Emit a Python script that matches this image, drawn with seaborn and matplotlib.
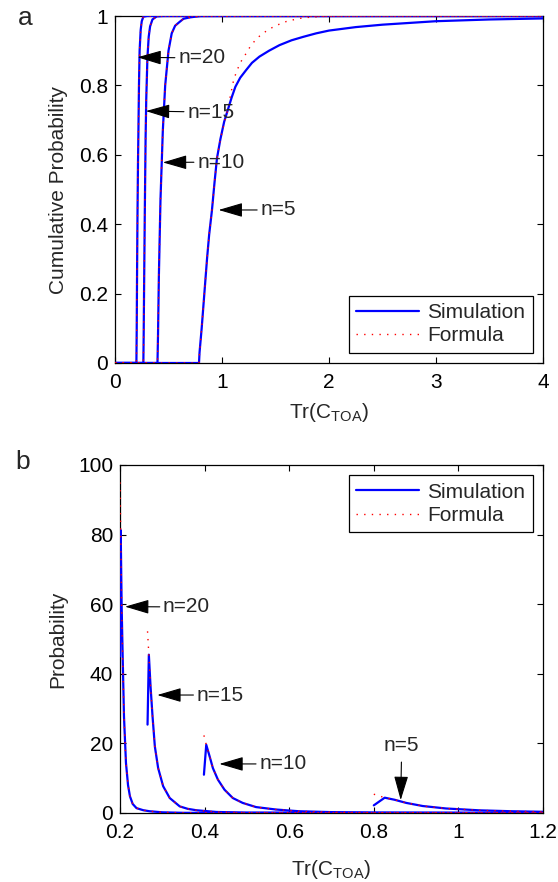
import numpy as np
import pandas as pd
import seaborn as sns
import matplotlib.pyplot as plt
from matplotlib.lines import Line2D
from matplotlib.ticker import FuncFormatter

sns.set_style("ticks")
plt.rcParams['font.family'] = ['Liberation Sans', 'DejaVu Sans']
plt.rcParams['mathtext.fontset'] = 'custom'
plt.rcParams['mathtext.rm'] = 'Liberation Sans'
plt.rcParams['mathtext.it'] = 'Liberation Sans'
plt.rcParams['mathtext.default'] = 'regular'

# ---- panel a: cumulative probability ----
cdf20_x = [0, 0.2, 0.203, 0.206, 0.21, 0.215, 0.219, 0.224, 0.23, 0.24, 0.25, 0.265, 0.3, 4]
cdf20_y = [0, 0, 0.1, 0.25, 0.42, 0.58, 0.67, 0.8, 0.9, 0.96, 0.985, 0.998, 1, 1]

cdf15_x = [0, 0.265, 0.268, 0.272, 0.278, 0.286, 0.292, 0.303, 0.315, 0.328, 0.35, 0.39, 0.45, 4]
cdf15_y = [0, 0, 0.08, 0.22, 0.42, 0.65, 0.76, 0.88, 0.94, 0.97, 0.99, 0.999, 1, 1]

cdf10_x = [0, 0.397, 0.402, 0.41, 0.425, 0.447, 0.469, 0.5, 0.53, 0.562, 0.6, 0.64, 0.7, 0.8, 4]
cdf10_y = [0, 0, 0.08, 0.25, 0.47, 0.67, 0.8, 0.9, 0.95, 0.972, 0.982, 0.992, 0.996, 1, 1]

cdf5_x = [0, 0.785, 0.79, 0.81, 0.83, 0.86, 0.88, 0.906, 0.93, 0.953, 0.985, 1.02, 1.06,
          1.09, 1.125, 1.17, 1.225, 1.28, 1.35, 1.44, 1.537, 1.65, 1.76, 1.88, 2.0,
          2.25, 2.5, 3.0, 3.5, 4]
cdf5_y = [0, 0, 0.03, 0.1, 0.18, 0.3, 0.37, 0.44, 0.52, 0.59, 0.645, 0.695, 0.735,
          0.765, 0.796, 0.822, 0.844, 0.865, 0.883, 0.9, 0.916, 0.93, 0.94, 0.95, 0.958,
          0.968, 0.975, 0.985, 0.99, 0.993]

# formula for n=5 departs from the simulation above ~0.7
cdf5f_x = [0, 0.785, 0.79, 0.81, 0.83, 0.86, 0.88, 0.906, 0.93, 0.953, 0.985, 1.02, 1.05,
           1.075, 1.105, 1.13, 1.17, 1.225, 1.26, 1.3, 1.36, 1.43, 1.5, 1.6, 1.68, 1.76,
           1.95, 2.2, 4]
cdf5f_y = [0, 0, 0.03, 0.1, 0.18, 0.3, 0.37, 0.44, 0.52, 0.59, 0.645, 0.69, 0.725,
           0.765, 0.81, 0.835, 0.865, 0.892, 0.91, 0.926, 0.945, 0.96, 0.972, 0.984, 0.99,
           0.995, 0.999, 1, 1]

# ---- panel b: probability density ----
pdf20_x = [0.2, 0.2016, 0.2039, 0.2063, 0.2094, 0.2141, 0.219, 0.2235, 0.23, 0.239, 0.255, 0.27, 0.3, 0.35, 1.2]
pdf20_y = [45, 81.3, 59.3, 45, 27.8, 14.4, 8.0, 4.8, 2.6, 1.4, 0.8, 0.5, 0.2, 0.05, 0]
pdf20f_y0 = 95

pdf15_x = [0.2651, 0.2682, 0.2722, 0.2769, 0.2824, 0.2902, 0.302, 0.3176, 0.3412, 0.36, 0.38, 0.4275, 0.5, 1.2]
pdf15_y = [25.4, 45.5, 36.4, 27.8, 19.1, 12.9, 7.7, 4.3, 1.9, 1.2, 0.8, 0.3, 0.1, 0]
pdf15f_y0 = 52.2

pdf10_x = [0.3984, 0.4039, 0.4118, 0.4196, 0.4314, 0.447, 0.4667, 0.49, 0.5216, 0.5686, 0.6235, 0.7, 0.8, 1.2]
pdf10_y = [11, 19.6, 16.3, 12.9, 9.6, 6.7, 4.3, 2.9, 1.7, 1.0, 0.5, 0.25, 0.1, 0]
pdf10f_y0 = 22.3

pdf5_x = [0.8, 0.8258, 0.8493, 0.8767, 0.9159, 0.9707, 1.049, 1.127, 1.2]
pdf5_y = [2.2, 4.4, 3.8, 2.9, 2.0, 1.3, 0.77, 0.5, 0.35]
pdf5f_y0 = 5.4

blue = (0, 0, 1)
red = (1, 0, 0)
dotted = (0, (1, 4.5))
fs = 15

fig = plt.figure(figsize=(5.58, 8.82), dpi=100)
ax1 = fig.add_axes([115/558, 1-363/882, 428/558, 347/882])
ax2 = fig.add_axes([120/558, 1-813/882, 423/558, 348/882])


def curve(ax, x, y, color, ls, lw):
    sns.lineplot(x=x, y=y, ax=ax, color=color, linestyle=ls, linewidth=lw,
                 estimator=None, sort=False, zorder=3)


for x, y in [(cdf20_x, cdf20_y), (cdf15_x, cdf15_y), (cdf10_x, cdf10_y), (cdf5_x, cdf5_y)]:
    curve(ax1, x, y, blue, '-', 1.6)
for x, y in [(cdf20_x, cdf20_y), (cdf15_x, cdf15_y), (cdf10_x, cdf10_y), (cdf5f_x, cdf5f_y)]:
    curve(ax1, x, y, red, dotted, 1.0)

for x, y in [(pdf20_x, pdf20_y), (pdf15_x, pdf15_y), (pdf10_x, pdf10_y), (pdf5_x, pdf5_y)]:
    curve(ax2, x, y, blue, '-', 1.6)
for x, y, y0 in [(pdf20_x, pdf20_y, pdf20f_y0), (pdf15_x, pdf15_y, pdf15f_y0),
                 (pdf10_x, pdf10_y, pdf10f_y0), (pdf5_x, pdf5_y, pdf5f_y0)]:
    curve(ax2, x, [y0] + y[1:], red, dotted, 1.0)

fmt = FuncFormatter(lambda v, p: '%g' % round(v, 3))
for ax in (ax1, ax2):
    for s in ax.spines.values():
        s.set_visible(True)
        s.set_linewidth(0.9)
        s.set_color('black')
    ax.tick_params(direction='in', top=True, right=True, length=4, width=0.8,
                   labelsize=fs, pad=5, colors='black')
    ax.tick_params(axis='x', pad=7)
    ax.xaxis.set_major_formatter(fmt)
    ax.yaxis.set_major_formatter(fmt)
    ax.grid(False)

ax1.set_xlim(0, 4)
ax1.set_ylim(0, 1)
ax1.set_xticks([0, 1, 2, 3, 4])
ax1.set_yticks([0, 0.2, 0.4, 0.6, 0.8, 1])
ax2.set_xlim(0.2, 1.2)
ax2.set_ylim(0, 100)
ax2.set_xticks([0.2, 0.4, 0.6, 0.8, 1.0, 1.2])
ax2.set_yticks([0, 20, 40, 60, 80, 100])

ax1.set_xlabel('Tr(C$_{TOA}$)', fontsize=fs, labelpad=7)
ax1.set_ylabel('Cumulative Probability', fontsize=fs, labelpad=8)
ax2.set_xlabel('Tr(C$_{TOA}$)', fontsize=fs, labelpad=12)
ax2.set_ylabel('Probability', fontsize=fs, labelpad=8)

fig.text(18/558, 1-18/882, 'a', fontsize=19, ha='left', va='center')
fig.text(15/558, 1-462/882, 'b', fontsize=19, ha='left', va='center')

aprops = dict(arrowstyle='-|>,head_length=0.75,head_width=0.22', color='black',
              lw=0.8, shrinkA=0, shrinkB=0, mutation_scale=20)
# panel a arrows: (label, tip, text position)
for lab, tip, txt in [('n=20', (0.209, 0.881), (0.59, 0.879)),
                      ('n=15', (0.288, 0.726), (0.675, 0.723)),
                      ('n=10', (0.447, 0.578), (0.768, 0.579)),
                      ('n=5', (0.968, 0.441), (1.359, 0.441))]:
    ax1.annotate(lab, xy=tip, xytext=txt, fontsize=fs, ha='left', va='center',
                 arrowprops=aprops)
for lab, tip, txt in [('n=20', (0.2118, 59.3), (0.3017, 59.2)),
                      ('n=15', (0.288, 33.9), (0.3813, 33.9)),
                      ('n=10', (0.4348, 14.1), (0.5293, 14.1))]:
    ax2.annotate(lab, xy=tip, xytext=txt, fontsize=fs, ha='left', va='center',
                 arrowprops=aprops)
ax2.annotate('n=5', xy=(0.8636, 3.7), xytext=(0.866, 19.5), fontsize=fs,
             ha='center', va='center', arrowprops=dict(aprops, shrinkA=3))

handles = [Line2D([], [], color=blue, lw=1.6),
           Line2D([], [], color=red, lw=1.0, linestyle=dotted)]
for ax, loc in [(ax1, 'lower right'), (ax2, 'upper right')]:
    leg = ax.legend(handles, ['Simulation', 'Formula'], loc=loc, fontsize=fs,
                    frameon=True, fancybox=False, handlelength=3.0,
                    handletextpad=0.4, labelspacing=0.2, borderpad=0.35,
                    borderaxespad=0.5)
    leg.get_frame().set_edgecolor('black')
    leg.get_frame().set_linewidth(0.9)
    leg.get_frame().set_alpha(1)

fig.savefig('out.png', dpi=100)
